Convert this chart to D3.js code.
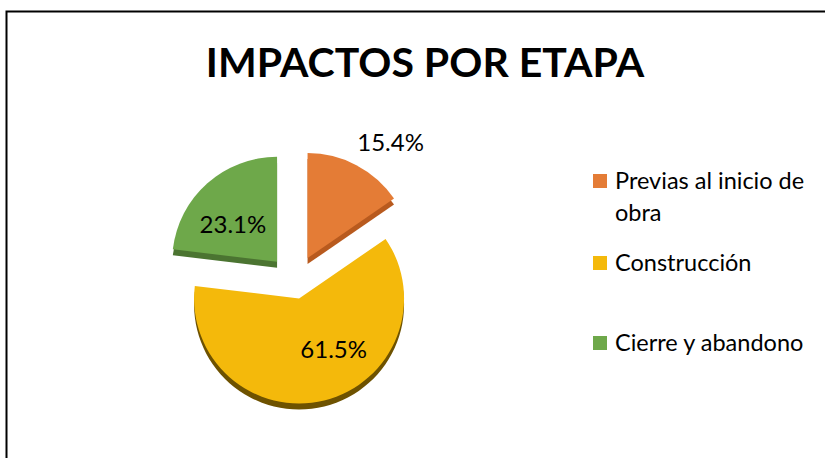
<!DOCTYPE html>
<html>
<head>
<meta charset="utf-8">
<script src="https://cdn.jsdelivr.net/npm/d3@7"></script>
<style>
  body {margin: 0; background: #fff;}
  svg {display: block; font-family: Lato, 'Open Sans', sans-serif;}
</style>
</head>
<body>
<div id="chart"></div>
<script>
var title = 'IMPACTOS POR ETAPA'
var categories = ['Previas al inicio de obra', 'Construcción', 'Cierre y abandono']
var legendLines = [['Previas al inicio de', 'obra'], ['Construcción'], ['Cierre y abandono']]
var values = [15.4, 61.5, 23.1]
var colors = ['#E47C36', '#F4B90B', '#6EA84A']
var sideColors = ['#B85A1E', '#6E5200', '#4B7431']
var explode = [27, 17, 27]

var width = 825, height = 458
var svg = d3.select('#chart').append('svg')
  .attr('width', width)
  .attr('height', height)

// chart border
svg.append('rect')
  .attr('x', 6.5).attr('y', 11.5)
  .attr('width', width + 20).attr('height', height + 20)
  .attr('fill', 'none')
  .attr('stroke', '#000')
  .attr('stroke-width', 2)

svg.append('text')
  .attr('x', 425).attr('y', 77)
  .attr('text-anchor', 'middle')
  .attr('font-size', 41)
  .attr('font-weight', 'bold')
  .text(title)

var cx = 295, cy = 282, r = 105, depth = 6

var pie = d3.pie().sort(null).value(d => d)
var arcs = pie(values)
var arc = d3.arc().innerRadius(0).outerRadius(r)
var total = d3.sum(values)
var fmt = d3.format('.1f')

arcs.forEach((d, i) => {
  var mid = (d.startAngle + d.endAngle)/2
  d.ox = cx + explode[i]*Math.sin(mid)
  d.oy = cy - explode[i]*Math.cos(mid)
  d.mid = mid
  d.i = i
})

var g = svg.append('g')

// side (3d depth)
g.selectAll('path.side').data(arcs).join('path')
  .attr('class', 'side')
  .attr('transform', d => `translate(${d.ox},${d.oy + depth})`)
  .attr('d', arc)
  .attr('fill', (d, i) => sideColors[i])

g.selectAll('path.top').data(arcs).join('path')
  .attr('class', 'top')
  .attr('transform', d => `translate(${d.ox},${d.oy})`)
  .attr('d', arc)
  .attr('fill', (d, i) => colors[i])

// labels
g.selectAll('text.lbl').data(arcs).join('text')
  .attr('class', 'lbl')
  .attr('font-size', 24)
  .attr('fill', '#000')
  .each(function(d){
    var sel = d3.select(this)
    var pct = d.value/total
    if (pct < 0.2){
      var rr = r*1.1
      sel.attr('x', d.ox + rr*Math.sin(d.mid) - 4)
        .attr('y', d.oy - rr*Math.cos(d.mid) - 5)
        .attr('text-anchor', 'start')
    } else {
      var lr = d.i == 1 ? 62 : 58
      var a = d.i == 1 ? d.mid - 0.35 : d.mid - 0.14
      sel.attr('x', d.ox + lr*Math.sin(a))
        .attr('y', d.oy - lr*Math.cos(a))
        .attr('dy', '0.35em')
        .attr('text-anchor', 'middle')
    }
  })
  .text(d => fmt(d.value) + '%')

// legend
var legendY = [181, 263, 343]
var lg = svg.selectAll('g.legend').data(categories).join('g')
  .attr('class', 'legend')
  .attr('transform', (d, i) => `translate(593,${legendY[i]})`)

lg.append('rect')
  .attr('x', 0).attr('y', -7)
  .attr('width', 14).attr('height', 14)
  .attr('fill', (d, i) => colors[i])

lg.append('text')
  .attr('x', 22).attr('y', 8)
  .attr('font-size', 23.5)
  .selectAll('tspan').data((d, i) => legendLines[i]).join('tspan')
  .attr('x', 22)
  .attr('dy', (d, j) => j == 0 ? 0 : 32)
  .text(d => d)
</script>
</body>
</html>
